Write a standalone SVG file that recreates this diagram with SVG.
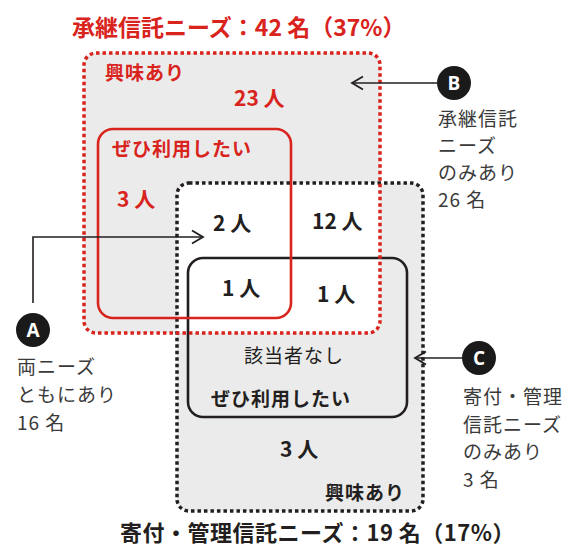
<svg xmlns="http://www.w3.org/2000/svg" width="574" height="547" viewBox="0 0 574 547">
<defs>
<style>
.t{font-family:"Noto Sans CJK JP","Noto Sans",sans-serif}
.red{fill:#d9231d}
.blk{fill:#231f20}
.gry{fill:#3a3a3a}
.b{font-weight:bold}
.ann{font-size:19px;letter-spacing:1px}
.lbl{font-size:19px;letter-spacing:1px}
.num{font-size:21px;font-weight:bold}
.circ{fill:#1a1a1a}
.cl{fill:#fff;font-family:"Open Sans","Noto Sans",sans-serif;font-size:19px;font-weight:bold}
.dotR{fill:none;stroke:#d9231d;stroke-width:3.5;stroke-dasharray:3.5 3}
.dotK{fill:none;stroke:#231f20;stroke-width:3.5;stroke-dasharray:3.5 3}
.solR{fill:none;stroke:#d9231d;stroke-width:2.6}
.solK{fill:none;stroke:#231f20;stroke-width:2.6}
.con{fill:none;stroke:#231f20;stroke-width:1.6}
</style>
<clipPath id="clipRed"><rect x="84" y="53" width="296" height="280" rx="12"/></clipPath>
<marker id="arr" markerUnits="userSpaceOnUse" markerWidth="16" markerHeight="16" refX="13" refY="8" orient="auto">
<path d="M2,1.5 L13,8 L2,14.5" fill="none" stroke="#231f20" stroke-width="1.8"/>
</marker>
</defs>
<rect width="574" height="547" fill="#fff"/>
<g id="fills">
<rect x="84" y="53" width="296" height="280" rx="12" fill="#ebebeb"/>
<rect x="177" y="183" width="246" height="328" rx="12" fill="#ebebeb"/>
<rect x="177" y="183" width="246" height="328" rx="12" fill="#fff" clip-path="url(#clipRed)"/>
</g>
<g id="node-kifu-interest">
<rect class="dotK" x="177" y="183" width="246" height="328" rx="12"/>
<text class="t blk lbl b" x="325" y="500" style="font-weight:600">興味あり</text>
<text class="t blk num" x="280" y="457">3 人</text>
</g>
<g id="node-kifu-definite">
<rect class="solK" x="188" y="258" width="219" height="159" rx="15"/>
<text class="t blk lbl" x="294" y="363" text-anchor="middle">該当者なし</text>
<text class="t blk lbl b" x="281" y="406" text-anchor="middle">ぜひ利用したい</text>
</g>
<g id="node-shokei-interest">
<rect class="dotR" x="84" y="53" width="296" height="280" rx="12"/>
<text class="t red lbl b" x="105" y="80">興味あり</text>
<text class="t red num" x="234" y="106">23 人</text>
</g>
<g id="node-shokei-definite">
<rect class="solR" x="98" y="129" width="193" height="189" rx="15"/>
<text class="t red lbl b" x="112" y="156">ぜひ利用したい</text>
<text class="t red num" x="117" y="207">3 人</text>
</g>
<g id="cells">
<text class="t blk num" x="213" y="231">2 人</text>
<text class="t blk num" x="312" y="229">12 人</text>
<text class="t blk num" x="222" y="296">1 人</text>
<text class="t blk num" x="317" y="302">1 人</text>
</g>
<g id="titles">
<text class="t red b" x="72" y="36" font-size="23">承継信託ニーズ：42 名（37%）</text>
<text class="t blk b" x="120" y="541" font-size="22" letter-spacing="0.5">寄付・管理信託ニーズ：19 名（17%）</text>
</g>
<g id="connectors">
<polyline class="con" points="33,303 33,237 203,237" marker-end="url(#arr)"/>
<line class="con" x1="437" y1="83" x2="352" y2="83" marker-end="url(#arr)"/>
<line class="con" x1="462" y1="358" x2="415" y2="358" marker-end="url(#arr)"/>
</g>
<g id="node-A">
<circle class="circ" cx="33" cy="330" r="17"/>
<text class="cl" x="33" y="337" text-anchor="middle">A</text>
<text class="t gry ann" x="17" y="374">両ニーズ</text>
<text class="t gry ann" x="17" y="402">ともにあり</text>
<text class="t gry ann" x="17" y="430">16 名</text>
</g>
<g id="node-B">
<circle class="circ" cx="454" cy="83" r="17"/>
<text class="cl" x="454" y="90" text-anchor="middle">B</text>
<text class="t gry ann" x="438" y="126">承継信託</text>
<text class="t gry ann" x="438" y="153">ニーズ</text>
<text class="t gry ann" x="438" y="180">のみあり</text>
<text class="t gry ann" x="438" y="207">26 名</text>
</g>
<g id="node-C">
<circle class="circ" cx="479" cy="358" r="17"/>
<text class="cl" x="479" y="365" text-anchor="middle">C</text>
<text class="t gry ann" x="463" y="404">寄付・管理</text>
<text class="t gry ann" x="463" y="432">信託ニーズ</text>
<text class="t gry ann" x="463" y="459">のみあり</text>
<text class="t gry ann" x="463" y="487">3 名</text>
</g>
</svg>
